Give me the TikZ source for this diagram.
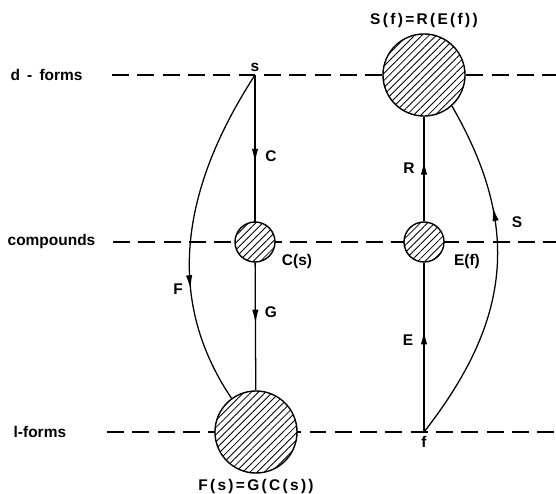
\documentclass[tikz,border=0pt]{standalone}
\usepackage{fontspec}
\setmainfont{Liberation Sans}
\usepackage{tikz}
\usetikzlibrary{arrows.meta,positioning,calc,patterns.meta,decorations.markings}

\tikzset{
  lvl/.style={dash pattern=on 12pt off 6pt, line width=0.9pt},
  hatch/.style={circle, draw, line width=1pt, inner sep=0pt, preaction={fill=white},
    pattern={Lines[angle=45,distance=3.6pt,line width=0.6pt]}},
  conn/.style={line width=0.9pt},
  midarrow/.style={conn, postaction={decorate}, decoration={markings,
    mark=at position #1 with {\arrow{Latex[length=10pt,width=4.5pt]}}}},
  lbl/.style={font=\fontsize{11}{13}\selectfont\bfseries, inner sep=1pt},
  flbl/.style={lbl, font=\fontsize{11}{13}\selectfont\bfseries\addfontfeature{LetterSpace=15}},
}

\begin{document}
\begin{tikzpicture}[x=0.025cm,y=0.025cm]
  \useasboundingbox (0,0) rectangle (556,493); % 図全体の範囲
  \node[lbl,anchor=west] (dlab) at (9,418) {d\hspace{2pt} - \hspace{2pt}forms}; % d体の段のラベル
  \node[lbl,anchor=west] (clab) at (6,251) {compounds}; % 化合物の段のラベル
  \node[lbl,anchor=west] (llab) at (12,61) {l-forms}; % l体の段のラベル
  \coordinate (dstart) at (112,418); \coordinate (dend) at (556,418); % d体の破線の両端
  \coordinate (cstart) at (113,251); \coordinate (cend) at (556,251); % 化合物の破線の両端
  \coordinate (lstart) at (107,61); \coordinate (lend) at (556,61); % l体の破線の両端
  \draw[lvl] (dstart) -- (dend); % d体の段の破線
  \draw[lvl] (cstart) -- (cend); % 化合物の段の破線
  \draw[lvl] (lstart) -- (lend); % l体の段の破線
  \coordinate (s) at (255,418); % 点 s
  \coordinate (f) at (424,61); % 点 f
  \node[hatch,minimum size=1.0cm] (Cs) at (255,251) {}; % C(s) の円
  \node[hatch,minimum size=1.0cm] (Ef) at (424,251) {}; % E(f) の円
  \node[hatch,minimum size=2.05cm] (Fs) at (256,61) {}; % F(s) の大きな円
  \node[hatch,minimum size=2.05cm] (Sf) at (424,418) {}; % S(f) の大きな円
  \draw[midarrow=0.6] (s) -- (Cs); % 写像 C
  \draw[midarrow=0.48] (Cs) -- (Fs); % 写像 G
  \draw[midarrow=0.6] (f) -- (Ef); % 写像 E
  \draw[midarrow=0.58] (Ef) -- (Sf); % 写像 R
  \draw[midarrow=0.66] (s) to[out=237,in=124] (Fs.126); % 写像 F
  \draw[midarrow=0.69] (f) to[out=52,in=-60,looseness=1.1] (Sf.-48); % 写像 S
  \node[lbl,above=1pt of s] (slab) {s}; % s のラベル
  \node[lbl,below=2pt of f] (flab) {f}; % f のラベル
  \node[flbl,above=3pt of Sf] (sflab) {S(f)=R(E(f))}; % 上の円のラベル
  \node[flbl,below=3pt of Fs] (fslab) {F(s)=G(C(s))}; % 下の円のラベル
  \node[lbl] (cslab) at (297,231) {C(s)}; % C(s) のラベル
  \node[lbl] (eflab) at (467,231) {E(f)}; % E(f) のラベル
  \node[lbl] (Clab) at (271,337) {C}; % C のラベル
  \node[lbl] (Glab) at (271,181) {G}; % G のラベル
  \node[lbl] (Rlab) at (409,325) {R}; % R のラベル
  \node[lbl] (Elab) at (408,153) {E}; % E のラベル
  \node[lbl] (Flab) at (178,204) {F}; % F のラベル
  \node[lbl] (Slab) at (517,271) {S}; % S のラベル
\end{tikzpicture}
\end{document}
